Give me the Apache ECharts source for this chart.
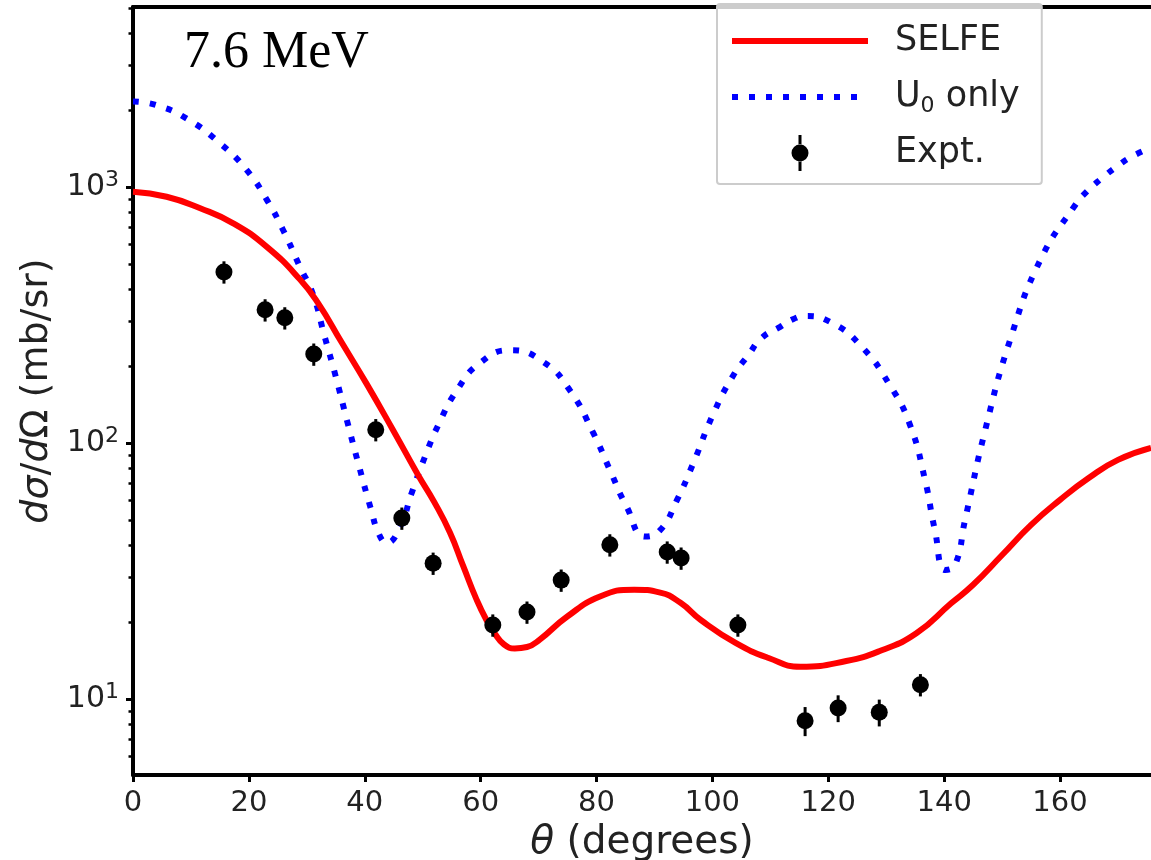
<!DOCTYPE html>
<html>
<head>
<meta charset="utf-8">
<script src="https://cdn.jsdelivr.net/npm/echarts@6/dist/echarts.min.js"></script>
<style>
  html, body { margin: 0; padding: 0; background: #fff; }
  #chart { width: 1151px; height: 860px; }
</style>
</head>
<body>
<div id="chart"></div>
<script>
// SELFE curve (theta in degrees, mb/sr)
const selfeTheta = [0, 5.8, 11.6, 17.3, 23.1, 28.8, 32.0, 36.0, 40.3, 44.8, 49.2, 52.0, 54.7, 57.0, 59.3, 61.0, 62.5, 64.0, 65.9, 68.0, 70.2, 74.9, 80.6, 86.5, 91.0, 94.5, 98.0, 104.0, 109.7, 115.2, 123.1, 129.1, 135.2, 141.2, 145, 150, 155, 160, 165, 170, 175.7];
const selfeValue = [961, 918, 828, 723, 585, 437, 351, 248, 171, 113.5, 75.2, 58.9, 44.8, 33.1, 24.5, 20.4, 18.0, 16.4, 15.8, 16.0, 17.1, 21.0, 25.2, 26.8, 26.1, 23.8, 20.4, 16.6, 14.5, 13.4, 14.1, 15.5, 18.1, 23.7, 28.0, 36.6, 48.0, 60.1, 73.3, 86.1, 95.9];

// U0 only curve
const u0Theta = [0, 4.0, 9.2, 15.0, 19.6, 23.1, 25.9, 28.8, 31.1, 33.0, 35.0, 37.0, 39.0, 41.0, 42.5, 43.8, 46.1, 48.1, 50.4, 52.7, 55.9, 59.9, 65.1, 70.8, 75.4, 79.5, 82.3, 85.2, 88.4, 91.0, 93.9, 96.7, 100.2, 103.6, 106.2, 108.5, 111.7, 114.0, 116.0, 120.3, 125.5, 130.6, 134.1, 136.7, 138.4, 140.2, 141.9, 143.6, 147.1, 151.4, 156.6, 162.6, 164.6, 167.2, 169.8, 172.4, 175.7];
const u0Value = [2163, 2094, 1858, 1486, 1169, 893, 681, 490, 380, 265, 182, 121, 81.6, 56.0, 43.9, 40.8, 47.2, 64.0, 88.7, 118, 161, 206, 231, 208, 161, 109, 78.7, 56.5, 43.2, 45.8, 60.1, 83.6, 131, 184, 221, 258, 285, 306, 314, 298, 242, 169, 118, 71.9, 45.8, 32.0, 33.5, 50.1, 113, 254, 520, 851, 961, 1084, 1205, 1318, 1426];

// experimental points, relative error
const exptTheta = [15.7, 22.8, 26.2, 31.2, 41.9, 46.4, 51.8, 62.1, 68.0, 73.9, 82.3, 92.2, 94.6, 104.4, 116.0, 121.7, 128.8, 135.9];
const exptValue = [467, 332, 309, 223, 113, 51, 34, 19.5, 21.9, 29.2, 40.1, 37.6, 35.6, 19.5, 8.25, 9.25, 8.9, 11.4];
const exptErr = [0.1, 0.1, 0.1, 0.1, 0.1, 0.1, 0.1, 0.1, 0.1, 0.1, 0.1, 0.1, 0.1, 0.1, 0.13, 0.12, 0.12, 0.1];

const xTicks = [0, 20, 40, 60, 80, 100, 120, 140, 160];
const yMajorTicks = [10, 100, 1000];
const yMinorTicks = [6, 7, 8, 9, 20, 30, 40, 50, 60, 70, 80, 90, 200, 300, 400, 500, 600, 700, 800, 900, 2000, 3000, 4000, 5000];

const FONT = 'DejaVu Sans';
const X_MAX = 175.7;
const Y_MIN = 5.06, Y_MAX = 5060;

const chart = echarts.init(document.getElementById('chart'));

const option = {
  animation: false,
  backgroundColor: '#fff',
  title: {
    text: '7.6 MeV',
    left: 184,
    top: 27,
    padding: 0,
    textStyle: { fontFamily: 'Liberation Serif', fontSize: 52, fontWeight: 'normal', color: '#000', lineHeight: 52 }
  },
  grid: { left: 133, right: 0, top: 7, bottom: 85, outerBoundsMode: 'none' },
  legend: {
    orient: 'vertical',
    left: 717,
    top: 4,
    padding: [17, 22, 11, 12],
    itemWidth: 136,
    itemHeight: 36,
    itemGap: 16,
    selectedMode: false,
    backgroundColor: 'rgba(255,255,255,0.8)',
    borderColor: '#cccccc',
    borderWidth: 2,
    borderRadius: 3,
    lineStyle: { width: 6 },
    textStyle: {
      fontFamily: FONT, fontSize: 35, color: '#222', lineHeight: 40, padding: [0, 0, 0, 22],
      rich: {
        n: { fontFamily: FONT, fontSize: 35, color: '#222', lineHeight: 40 },
        sub: { fontFamily: FONT, fontSize: 22, color: '#222', lineHeight: 24, verticalAlign: 'bottom' }
      }
    },
    formatter: function (name) {
      if (name === 'U0 only') return '{n|U}{sub|0}{n| only}';
      return name;
    },
    data: [
      { name: 'SELFE', itemStyle: { opacity: 0 } },
      { name: 'U0 only', itemStyle: { opacity: 0 } },
      { name: 'Expt.', icon: 'path://M-1.5,-18h3v10h-3z M-1.5,8h3v10h-3z M-8.5,0a8.5,8.5 0 1,0 17,0a8.5,8.5 0 1,0 -17,0z', itemStyle: { opacity: 1 } }
    ]
  },
  xAxis: [
    {
      type: 'value',
      min: 0,
      max: X_MAX,
      name: '{i|θ} (degrees)',
      nameLocation: 'middle',
      nameGap: 45,
      nameTextStyle: {
        fontFamily: FONT, fontSize: 39, color: '#222',
        rich: { i: { fontFamily: FONT, fontSize: 39, fontStyle: 'italic', color: '#222' } }
      },
      axisLine: { show: true, onZero: false, lineStyle: { color: '#000', width: 4 } },
      axisTick: { show: true, customValues: xTicks, length: 7, lineStyle: { color: '#000', width: 3 } },
      axisLabel: { customValues: xTicks, margin: 14, fontFamily: FONT, fontSize: 29, color: '#222' },
      splitLine: { show: false }
    },
    {
      type: 'value',
      position: 'top',
      min: 0,
      max: X_MAX,
      axisLine: { show: true, onZero: false, lineStyle: { color: '#000', width: 4 } },
      axisTick: { show: false },
      axisLabel: { show: false },
      splitLine: { show: false }
    }
  ],
  yAxis: [
    {
      type: 'log',
      min: Y_MIN,
      max: Y_MAX,
      name: '{i|dσ}/{i|d}Ω (mb/sr)',
      nameLocation: 'middle',
      nameGap: 76,
      nameTextStyle: {
        fontFamily: FONT, fontSize: 38, color: '#222',
        rich: { i: { fontFamily: FONT, fontSize: 38, fontStyle: 'italic', color: '#222' } }
      },
      axisLine: { show: true, lineStyle: { color: '#000', width: 4 } },
      axisTick: { show: true, customValues: yMajorTicks, length: 7, lineStyle: { color: '#000', width: 3 } },
      axisLabel: {
        customValues: yMajorTicks,
        margin: 14,
        formatter: function (v) {
          return '{b|10}{s|' + Math.round(Math.log10(v)) + '}';
        },
        rich: {
          b: { fontFamily: FONT, fontSize: 30, color: '#222', lineHeight: 36 },
          s: { fontFamily: FONT, fontSize: 22, color: '#222', lineHeight: 22, verticalAlign: 'top' }
        }
      },
      splitLine: { show: false },
      minorTick: { show: false }
    },
    {
      type: 'log',
      min: Y_MIN,
      max: Y_MAX,
      position: 'left',
      axisLine: { show: false },
      axisTick: { show: true, customValues: yMinorTicks, length: 4.5, lineStyle: { color: '#000', width: 2.5 } },
      axisLabel: { show: false },
      splitLine: { show: false }
    }
  ],
  series: [
    {
      name: 'U0 only',
      type: 'line',
      symbol: 'none',
      smooth: 0.5,
      z: 2,
      lineStyle: { color: '#0000ff', width: 6, type: [6, 11], cap: 'butt' },
      itemStyle: { color: '#0000ff' },
      data: u0Theta.map((t, i) => [t, u0Value[i]])
    },
    {
      name: 'SELFE',
      type: 'line',
      symbol: 'none',
      smooth: 0.5,
      z: 3,
      lineStyle: { color: '#ff0000', width: 6 },
      itemStyle: { color: '#ff0000' },
      data: selfeTheta.map((t, i) => [t, selfeValue[i]])
    },
    {
      name: 'Expt. err',
      type: 'custom',
      z: 4,
      encode: { x: 0, y: [1, 2] },
      renderItem: function (params, api) {
        const x = api.value(0);
        const lo = api.coord([x, api.value(1)]);
        const hi = api.coord([x, api.value(2)]);
        return {
          type: 'line',
          shape: { x1: lo[0], y1: lo[1], x2: hi[0], y2: hi[1] },
          style: { stroke: '#000', lineWidth: 3 }
        };
      },
      data: exptTheta.map((t, i) => [t, exptValue[i] * (1 - exptErr[i]), exptValue[i] * (1 + exptErr[i])])
    },
    {
      name: 'Expt.',
      type: 'scatter',
      symbol: 'circle',
      symbolSize: 17,
      z: 5,
      itemStyle: { color: '#000', opacity: 1 },
      data: exptTheta.map((t, i) => [t, exptValue[i]])
    }
  ]
};

chart.setOption(option);
window.addEventListener('resize', () => chart.resize());
</script>
</body>
</html>
